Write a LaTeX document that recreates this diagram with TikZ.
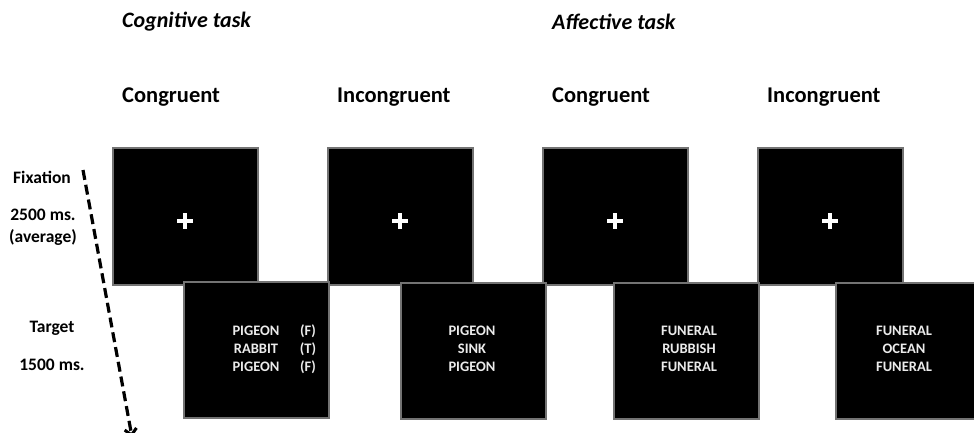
\documentclass[tikz,border=0pt]{standalone}
\usepackage{fontspec}
\setmainfont{Carlito}
\usetikzlibrary{arrows.meta}
\begin{document}
\begin{tikzpicture}[x=1pt,y=-1pt,
  screen/.style={draw=black!55, line width=1.6pt, fill=black, inner sep=0pt,
    anchor=north west, minimum width=145pt},
  fixbox/.style={screen, minimum height=137pt},
  tgtbox/.style={screen, minimum height=136pt},
  title/.style={font=\fontsize{22}{26}\selectfont\bfseries\itshape, anchor=west, inner sep=0pt},
  cond/.style={font=\fontsize{22.5}{26}\selectfont\bfseries, anchor=west, inner sep=0pt},
  side/.style={font=\fontsize{17.5}{22}\selectfont\bfseries, align=center, inner sep=0pt},
  words/.style={text=black!8, font=\fontsize{14.5}{18}\selectfont\bfseries, align=center, inner sep=0pt},
  cross/.style={white, line width=4pt},
  timeline/.style={dash pattern=on 10pt off 5pt, line width=3.2pt, -{Straight Barb[length=6pt,width=12pt,line width=3pt]}}
]
\clip (0,0) rectangle (974,432);
\fill[white] (0,0) rectangle (974,432);

% headings
\node[title] (cog) at (122,22) {Cognitive task};
\node[title] (aff) at (552,22) {Affective task};
\node[cond] (c1) at (122,97) {Congruent};
\node[cond] (c2) at (337,97) {Incongruent};
\node[cond] (c3) at (552,97) {Congruent};
\node[cond] (c4) at (767,97) {Incongruent};

% fixation screens
\node[fixbox] (fix1) at (112,147) {};
\node[fixbox] (fix2) at (327,147) {};
\node[fixbox] (fix3) at (542,147) {};
\node[fixbox] (fix4) at (757,147) {};
\foreach \f in {fix1,fix2,fix3,fix4}{
  \draw[cross] ([xshift=-8pt,yshift=-5pt]\f.center) -- ([xshift=8pt,yshift=-5pt]\f.center);
  \draw[cross] ([yshift=3pt]\f.center) -- ([yshift=-13pt]\f.center);
}

% target screens
\node[tgtbox] (tgt1) at (183,281) {};
\node[tgtbox] (tgt2) at (400,282) {};
\node[tgtbox] (tgt3) at (613,282) {};
\node[tgtbox] (tgt4) at (835,282) {};

\node[words] (w1) at (256,349) {PIGEON\\RABBIT\\PIGEON};
\node[words] (l1) at (308,349) {(F)\\(T)\\(F)};
\node[words] (w2) at (472,349) {PIGEON\\SINK\\PIGEON};
\node[words] (w3) at (689,349) {FUNERAL\\RUBBISH\\FUNERAL};
\node[words] (w4) at (904,349) {FUNERAL\\OCEAN\\FUNERAL};

% left labels
\node[side] (fixlab) at (42,177) {Fixation};
\node[side] (fixdur) at (43,227) {2500 ms.\\(average)};
\node[side] (tgtlab) at (52,328) {Target};
\node[side] (tgtdur) at (52,365) {1500 ms.};

% time arrow
\coordinate (ts) at (83,170);
\coordinate (te) at (132,437);
\draw[timeline] (ts) -- (te);
\end{tikzpicture}
\end{document}
